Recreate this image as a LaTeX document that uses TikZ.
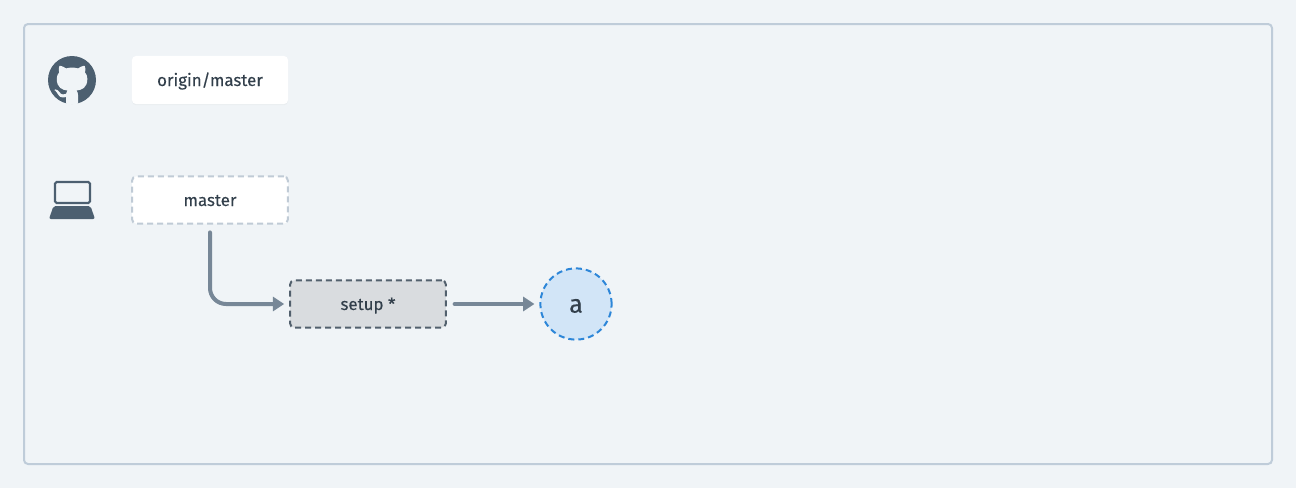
\documentclass[tikz,border=0pt]{standalone}
\usepackage{xcolor}
\usepackage{fontspec}
\setmainfont{Fira Sans}
\usepackage{tikz}
\usetikzlibrary{arrows.meta}
\usetikzlibrary{shadows}

\definecolor{pagebg}{HTML}{F0F4F7}
\definecolor{frameline}{HTML}{BFCCD9}
\definecolor{icondark}{HTML}{4C5F70}
\definecolor{inktext}{HTML}{323F4B}
\definecolor{arrowgray}{HTML}{778797}
\definecolor{dashlight}{HTML}{C0CBD6}
\definecolor{dashdark}{HTML}{52606D}
\definecolor{setupfill}{HTML}{D9DCDF}
\definecolor{circlefill}{HTML}{D2E5F7}
\definecolor{circleline}{HTML}{2D86D8}

\tikzset{
    branchbox/.style={
        rectangle,
        rounded corners=0.1cm,
        fill=white,
        text=inktext,
        outer sep=0pt,
        minimum width=3.89cm,
        minimum height=1.18cm,
        text height=0.36cm,
        text depth=0.06cm,
        font=\fontsize{12}{14}\selectfont\addfontfeature{FakeBold=0.25}
    },
    dashbox/.style={
        branchbox,
        line width=0.5mm,
        dash pattern=on 0.15cm off 0.1cm
    },
    flowarrow/.style={
        line width=1mm,
        color=arrowgray,
        line cap=round,
        -{Triangle[length=0.28cm,width=0.35cm]}
    }
}

\begin{document}
\begin{tikzpicture}[x=0.025cm,y=-0.025cm]
    \useasboundingbox (0,0) rectangle (1296,488);
    \fill[pagebg] (0,0) rectangle (1296,488);

    \draw[
        line width=0.5mm,
        rounded corners=0.1cm,
        draw=frameline
    ] (24,24) rectangle (1272,464);

    % github mark
    \fill[icondark] (72,80) circle (24);
    \begin{scope}[shift={(48,56)},x=0.075cm,y=-0.075cm]
        \clip (8,8) circle (8.1);
        \fill[pagebg] (6.02,16.2) -- (6.01,13.72)
            .. controls (4.00,14.09) and (3.48,13.23) .. (3.32,12.78)
            .. controls (3.23,12.55) and (2.84,11.84) .. (2.5,11.65)
            .. controls (2.22,11.5) and (1.82,11.13) .. (2.49,11.12)
            .. controls (3.12,11.11) and (3.57,11.7) .. (3.72,11.94)
            .. controls (4.44,13.15) and (5.59,12.81) .. (6.05,12.6)
            .. controls (6.12,12.08) and (6.33,11.73) .. (6.56,11.53)
            .. controls (4.78,11.33) and (2.92,10.64) .. (2.92,7.58)
            .. controls (2.92,6.71) and (3.23,5.99) .. (3.74,5.43)
            .. controls (3.66,5.23) and (3.38,4.41) .. (3.82,3.31)
            .. controls (3.82,3.31) and (4.49,3.10) .. (6.02,4.13)
            .. controls (6.66,3.95) and (7.34,3.86) .. (8.02,3.86)
            .. controls (8.70,3.86) and (9.38,3.95) .. (10.02,4.13)
            .. controls (11.55,3.09) and (12.22,3.31) .. (12.22,3.31)
            .. controls (12.66,4.41) and (12.38,5.23) .. (12.3,5.43)
            .. controls (12.81,5.99) and (13.12,6.71) .. (13.12,7.58)
            .. controls (13.12,10.65) and (11.25,11.33) .. (9.47,11.53)
            .. controls (9.76,11.78) and (10.01,12.26) .. (10.01,13.01)
            -- (10,16.2) -- cycle;
    \end{scope}

    % laptop
    \draw[
        line width=0.55mm,
        rounded corners=0.04cm,
        draw=icondark
    ] (55,182) rectangle (90,203);
    \fill[
        icondark,
        rounded corners=0.05cm
    ] (53.5,206) -- (90.5,206) -- (95,219) -- (49,219) -- cycle;

    \node[
        branchbox,
        minimum width=3.9cm,
        minimum height=1.2cm,
        drop shadow={shadow xshift=0pt,shadow yshift=-0.03cm,opacity=0.06}
    ] (originmaster) at (210,80) {origin/master};
    \node[dashbox, draw=dashlight] (master) at (210,200) {master};
    \node[dashbox, draw=dashdark, fill=setupfill] (setup) at (368,304) {setup *};
    \node[
        circle,
        line width=0.5mm,
        draw=circleline,
        dash pattern=on 0.15cm off 0.1cm,
        fill=circlefill,
        text=inktext,
        outer sep=0pt,
        minimum size=1.78cm,
        text height=0.5cm,
        text depth=0.07cm,
        font=\fontsize{18}{20}\selectfont\addfontfeature{FakeBold=0.25}
    ] (a) at (576,304) {a};

    \draw[flowarrow, rounded corners=0.4cm, shorten <=0.22cm, shorten >=0.15cm] (master.south) |- (setup.west);
    \draw[flowarrow, shorten <=0.22cm, shorten >=0.15cm] (setup.east) -- (a.west);
\end{tikzpicture}
\end{document}
